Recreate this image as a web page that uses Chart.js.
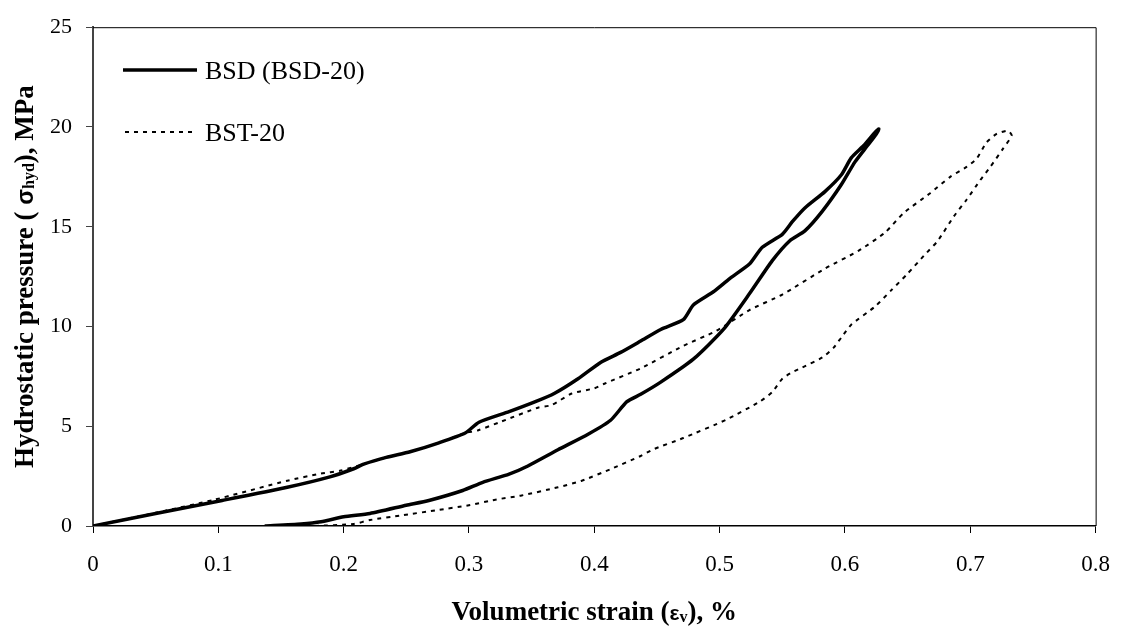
<!DOCTYPE html>
<html>
<head>
<meta charset="utf-8">
<script src="https://cdn.jsdelivr.net/npm/chart.js@4/dist/chart.umd.min.js"></script>
<style>
  html, body { margin: 0; padding: 0; background: #fff; }
  canvas { display: block; }
</style>
</head>
<body>
<canvas id="strainChart" width="1128" height="627"></canvas>
<script>
// BSD (BSD-20): loading branch then unloading branch
const bsdStrain = [0, 0.05, 0.103, 0.155, 0.189, 0.208, 0.216, 0.234, 0.253, 0.276, 0.297, 0.308, 0.332, 0.353, 0.368, 0.387, 0.405, 0.421, 0.437, 0.453, 0.471, 0.479, 0.495, 0.508, 0.524, 0.534, 0.55, 0.558, 0.568, 0.584, 0.597, 0.605, 0.615, 0.624, 0.627,
  0.625, 0.618, 0.608, 0.597, 0.582, 0.568, 0.556, 0.542, 0.524, 0.503, 0.479, 0.453, 0.437, 0.426, 0.413, 0.395, 0.371, 0.347, 0.332, 0.311, 0.295, 0.268, 0.25, 0.221, 0.2, 0.182, 0.166, 0.137];
const bsdPressure = [0, 0.63, 1.28, 1.94, 2.46, 2.87, 3.1, 3.44, 3.72, 4.17, 4.66, 5.2, 5.73, 6.23, 6.64, 7.38, 8.2, 8.7, 9.27, 9.85, 10.34, 11.08, 11.74, 12.4, 13.14, 13.97, 14.62, 15.25, 15.94, 16.76, 17.59, 18.45, 19.07, 19.73, 19.9,
  19.65, 19.07, 18.25, 17.1, 15.78, 14.79, 14.3, 13.3, 11.66, 9.85, 8.36, 7.21, 6.6, 6.23, 5.3, 4.6, 3.82, 3.01, 2.6, 2.19, 1.78, 1.28, 1.04, 0.63, 0.46, 0.21, 0.1, 0];

// BST-20: loading branch then unloading branch
const bstStrain = [0, 0.05, 0.097, 0.155, 0.182, 0.197, 0.216, 0.234, 0.253, 0.276, 0.297, 0.307, 0.326, 0.355, 0.366, 0.382, 0.4, 0.408, 0.437, 0.471, 0.497, 0.524, 0.55, 0.584, 0.611, 0.632, 0.647, 0.668, 0.684, 0.697, 0.705, 0.713, 0.721, 0.73,
  0.733, 0.726, 0.716, 0.708, 0.697, 0.687, 0.674, 0.663, 0.65, 0.637, 0.624, 0.605, 0.597, 0.591, 0.582, 0.566, 0.558, 0.55, 0.542, 0.532, 0.505, 0.471, 0.447, 0.437, 0.413, 0.39, 0.371, 0.342, 0.321, 0.3, 0.274, 0.247, 0.221, 0.208, 0.176];
const bstPressure = [0, 0.66, 1.32, 2.27, 2.63, 2.77, 3.1, 3.44, 3.72, 4.17, 4.66, 4.79, 5.24, 5.93, 6.06, 6.64, 6.9, 7.13, 7.9, 9.03, 9.77, 10.83, 11.6, 12.9, 13.8, 14.71, 15.7, 16.68, 17.5, 18.0, 18.41, 19.23, 19.65, 19.81,
  19.57, 18.9, 18.0, 17.34, 16.35, 15.53, 14.29, 13.55, 12.65, 11.82, 11.0, 10.09, 9.44, 8.94, 8.45, 7.95, 7.71, 7.38, 6.72, 6.23, 5.32, 4.41, 3.84, 3.51, 2.85, 2.27, 1.94, 1.53, 1.32, 1.04, 0.79, 0.54, 0.3, 0.1, 0];

const xTicks = [0, 0.1, 0.2, 0.3, 0.4, 0.5, 0.6, 0.7, 0.8];
const yTicks = [0, 5, 10, 15, 20, 25];

const seriesNames = ['BSD (BSD-20)', 'BST-20'];

const toPoints = (xs, ys) => xs.map((x, i) => ({ x: x, y: ys[i] }));

const serif = '"Liberation Serif", "Times New Roman", serif';

// draws a line of text made of pieces with their own font and baseline shift
function drawPieces(ctx, pieces, x, y) {
    let width = 0;
    pieces.forEach(p => { ctx.font = p.font; width += ctx.measureText(p.text).width; });
    let cx = x - width / 2;
    pieces.forEach(p => {
        ctx.font = p.font;
        ctx.fillText(p.text, cx, y + (p.dy || 0));
        cx += ctx.measureText(p.text).width;
    });
}

const decorations = {
    id: 'decorations',
    afterDraw(chart) {
        const ctx = chart.ctx;
        const area = chart.chartArea;
        ctx.save();

        // top and right frame
        ctx.strokeStyle = '#000';
        ctx.lineWidth = 1;
        ctx.beginPath();
        ctx.moveTo(area.left, area.top + 0.5);
        ctx.lineTo(area.right + 0.5, area.top + 0.5);
        ctx.lineTo(area.right + 0.5, area.bottom);
        ctx.stroke();

        // legend
        ctx.fillStyle = '#000';
        ctx.textBaseline = 'alphabetic';
        ctx.font = '26px ' + serif;
        ctx.lineWidth = 3.5;
        ctx.setLineDash([]);
        ctx.beginPath();
        ctx.moveTo(123, 70);
        ctx.lineTo(197, 70);
        ctx.stroke();
        ctx.fillText(seriesNames[0], 205, 79);

        ctx.lineWidth = 2;
        ctx.setLineDash([4, 5]);
        ctx.beginPath();
        ctx.moveTo(125, 132);
        ctx.lineTo(192, 132);
        ctx.stroke();
        ctx.setLineDash([]);
        ctx.fillText(seriesNames[1], 205, 141);

        // x axis title
        drawPieces(ctx, [
            { text: 'Volumetric strain (', font: 'bold 27px ' + serif },
            { text: 'ε', font: 'bold 21px "Liberation Sans", sans-serif' },
            { text: 'v', font: 'bold 16px ' + serif, dy: 2 },
            { text: '), %', font: 'bold 27px ' + serif }
        ], (area.left + area.right) / 2, 620);

        // y axis title
        ctx.translate(33, (area.top + area.bottom) / 2);
        ctx.rotate(-Math.PI / 2);
        drawPieces(ctx, [
            { text: 'Hydrostatic pressure ( ', font: 'bold 27px ' + serif },
            { text: 'σ', font: 'bold 23px "Liberation Sans", sans-serif' },
            { text: 'hyd', font: 'bold 16px ' + serif, dy: 1 },
            { text: '), MPa', font: 'bold 27px ' + serif }
        ], 0, 0);

        ctx.restore();
    }
};

const ctx = document.getElementById('strainChart').getContext('2d');

new Chart(ctx, {
    type: 'scatter',
    data: {
        datasets: [{
            label: seriesNames[0],
            data: toPoints(bsdStrain, bsdPressure),
            showLine: true,
            borderColor: '#000',
            borderWidth: 3.5,
            pointRadius: 0,
            tension: 0.2,
        }, {
            label: seriesNames[1],
            data: toPoints(bstStrain, bstPressure),
            showLine: true,
            borderColor: '#000',
            borderWidth: 2,
            borderDash: [4, 5],
            pointRadius: 0,
            tension: 0.2,
        }]
    },
    options: {
        responsive: false,
        animation: false,
        events: [],
        layout: {
            padding: { top: 20, right: 23, left: 0, bottom: 0 }
        },
        plugins: {
            legend: { display: false },
            tooltip: { enabled: false },
        },
        scales: {
            x: {
                type: 'linear',
                min: 0,
                max: 0.8,
                afterBuildTicks: axis => { axis.ticks = xTicks.map(v => ({ value: v })); },
                afterFit: axis => { axis.height = 101; },
                ticks: {
                    color: '#000',
                    font: { family: serif, size: 23 },
                    padding: 18,
                    maxRotation: 0,
                    callback: v => String(v),
                },
                grid: {
                    drawOnChartArea: false,
                    drawTicks: true,
                    tickLength: 7,
                    tickColor: '#000',
                },
                border: { display: true, color: '#000', width: 1.5 },
            },
            y: {
                type: 'linear',
                min: 0,
                max: 25,
                afterBuildTicks: axis => { axis.ticks = yTicks.map(v => ({ value: v })); },
                afterFit: axis => { axis.width = 93; },
                ticks: {
                    color: '#000',
                    font: { family: serif, size: 22 },
                    padding: 14,
                    callback: v => String(v),
                },
                grid: {
                    drawOnChartArea: false,
                    drawTicks: true,
                    tickLength: 7,
                    tickColor: '#444',
                },
                border: { display: true, color: '#444', width: 2 },
            }
        }
    },
    plugins: [decorations]
});
</script>
</body>
</html>
